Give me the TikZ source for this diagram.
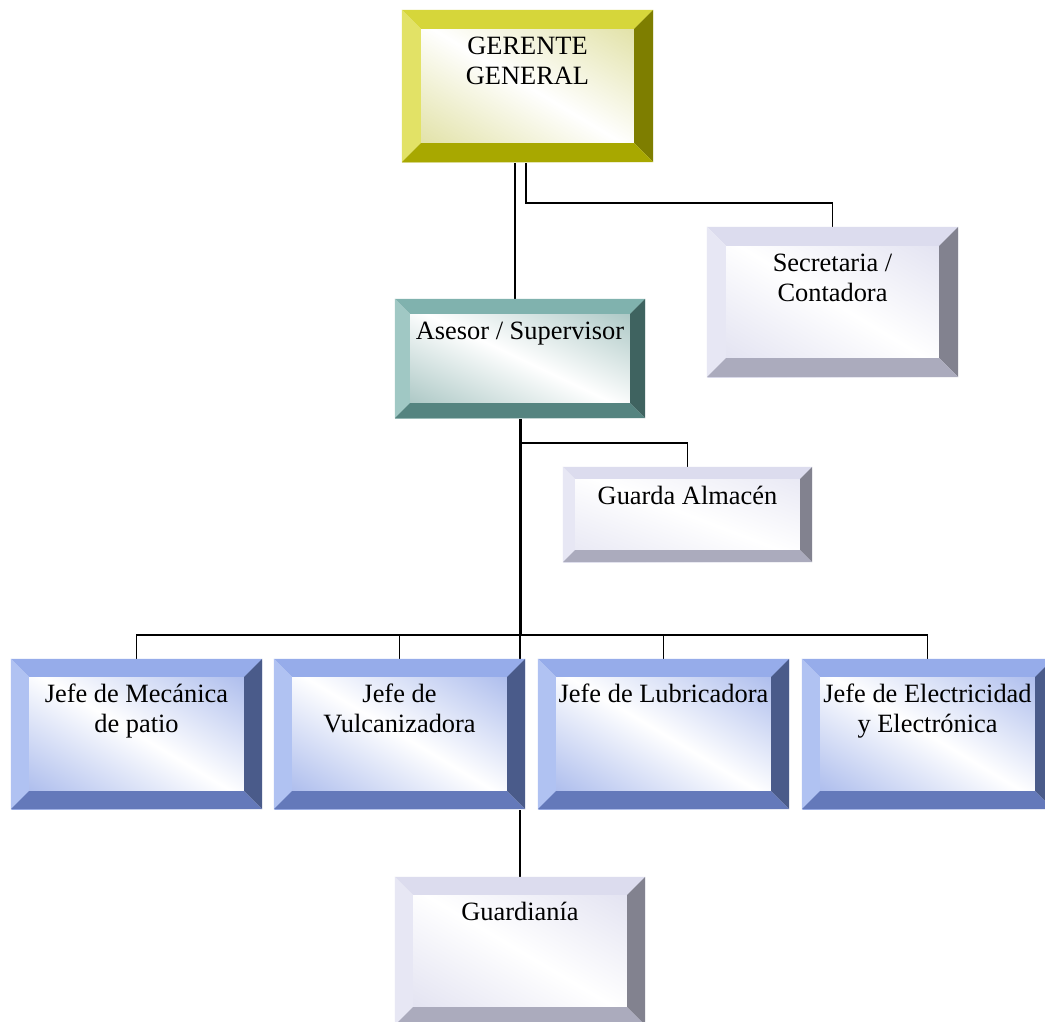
\documentclass[tikz,border=0pt]{standalone}
\usepackage{fontspec}
\setmainfont{Liberation Serif}
\usetikzlibrary{calc}
\pgfdeclarelayer{bgfill}
\pgfdeclarelayer{background}
\pgfsetlayers{bgfill,background,main}
% palettes: T top, L left, R right, B bottom, M inner tint
\definecolor{yT}{HTML}{D6D63A}
\definecolor{yL}{HTML}{E2E266}
\definecolor{yR}{HTML}{7E7E00}
\definecolor{yB}{HTML}{A8A800}
\definecolor{yM}{HTML}{D6D684}
\definecolor{tT}{HTML}{80B2AE}
\definecolor{tL}{HTML}{A0C8C4}
\definecolor{tR}{HTML}{3F6360}
\definecolor{tB}{HTML}{558480}
\definecolor{tM}{HTML}{7EA9A5}
\definecolor{lT}{HTML}{DCDCEE}
\definecolor{lL}{HTML}{E7E7F4}
\definecolor{lR}{HTML}{82828F}
\definecolor{lB}{HTML}{ABABBD}
\definecolor{lM}{HTML}{D8D8EC}
\definecolor{bT}{HTML}{96ACEA}
\definecolor{bL}{HTML}{B0C2F2}
\definecolor{bR}{HTML}{4A5B8A}
\definecolor{bB}{HTML}{6479BA}
\definecolor{bM}{HTML}{8EA4E6}
\newcommand\lbl[3]{\parbox[c][#1pt][t]{#2pt}{\centering\rule{0pt}{25pt}#3}}
\newcommand\bev[3]{%
  \fill[#3T] (#1.north west) -- (#1.north east) -- ($(#1.north east)+(-#2,#2)$) -- ($(#1.north west)+(#2,#2)$) -- cycle;
  \fill[#3L] (#1.north west) -- ($(#1.north west)+(#2,#2)$) -- ($(#1.south west)+(#2,-#2)$) -- (#1.south west) -- cycle;
  \fill[#3R] (#1.north east) -- ($(#1.north east)+(-#2,#2)$) -- ($(#1.south east)+(-#2,-#2)$) -- (#1.south east) -- cycle;
  \fill[#3B] (#1.south west) -- ($(#1.south west)+(#2,-#2)$) -- ($(#1.south east)+(-#2,-#2)$) -- (#1.south east) -- cycle;
}
\tikzset{
  box/.style n args={3}{rectangle, inner sep=0pt,
    path picture={\shade[left color=#1M, right color=#1M, middle color=white, shading angle=#2]
      (path picture bounding box.center) circle (#3pt);},
    font=\fontsize{26.4}{30.5}\selectfont},
  conn/.style={draw=black, line width=1.5pt},
  trunk/.style={draw=black, line width=3pt}
}
\begin{document}
\begin{tikzpicture}[x=1pt,y=-1pt]
\path[use as bounding box, clip] (0,0) rectangle (1045,1021);
\begin{pgfonlayer}{bgfill}
\fill[white] (0,0) rectangle (1045,1021);
\end{pgfonlayer}

\node[box={y}{-31}{147}, minimum width=251pt, minimum height=152pt] (ger) at (527.5,86) {\lbl{114}{231}{GERENTE\\GENERAL}};
\bev{ger}{19}{y}
\node[box={t}{-25.5}{139}, minimum width=250pt, minimum height=119pt] (ase) at (520,358.5) {\lbl{89}{240}{Asesor / Supervisor}};
\bev{ase}{15}{t}
\node[box={l}{-31}{146}, minimum width=251pt, minimum height=150pt] (sec) at (832.5,302) {\lbl{112}{231}{Secretaria /\\Contadora}};
\bev{sec}{19}{l}
\node[box={l}{-21}{133}, minimum width=249pt, minimum height=95pt] (alm) at (687.5,514.5) {\lbl{71}{235}{Guarda Almacén}};
\bev{alm}{12}{l}
\node[box={b}{-31}{146}, minimum width=251pt, minimum height=150pt] (j1) at (136.5,734) {\lbl{114}{241}{Jefe de Mecánica\\de patio}};
\bev{j1}{18}{b}
\node[box={b}{-31}{146}, minimum width=251pt, minimum height=150pt] (j2) at (399.5,734) {\lbl{114}{241}{Jefe de\\Vulcanizadora}};
\bev{j2}{18}{b}
\node[box={b}{-31}{146}, minimum width=251pt, minimum height=150pt] (j3) at (663.5,734) {\lbl{114}{241}{Jefe de Lubricadora}};
\bev{j3}{18}{b}
\node[box={b}{-31}{146}, minimum width=251pt, minimum height=150pt] (j4) at (927.5,734) {\lbl{114}{241}{Jefe de Electricidad\\y Electrónica}};
\bev{j4}{18}{b}
\node[box={l}{-30.6}{145}, minimum width=250pt, minimum height=148pt] (gua) at (520,951) {\lbl{112}{232}{Guardianía}};
\bev{gua}{18}{l}

\begin{pgfonlayer}{background}
\draw[conn] ($(ger.south)+(-12.5,0)$) -- ($(ase.north)+(-5,0)$);
\draw[conn] ($(ger.south)+(-1.5,0)$) -- ++(0,41) -| (sec.north);
\coordinate (bus) at ($(ase.south)+(0,217)$);
\draw[trunk] (ase.south) -- (bus);
\draw[conn] (bus) -- (gua.north);
\draw[conn] ($(ase.south)+(0,25)$) -| (alm.north);
\draw[conn] (j1.north) -- ++(0,-24) -| (j4.north);
\draw[conn] (j2.north) -- ++(0,-24);
\draw[conn] (j3.north) -- ++(0,-24);
\end{pgfonlayer}
\end{tikzpicture}
\end{document}
